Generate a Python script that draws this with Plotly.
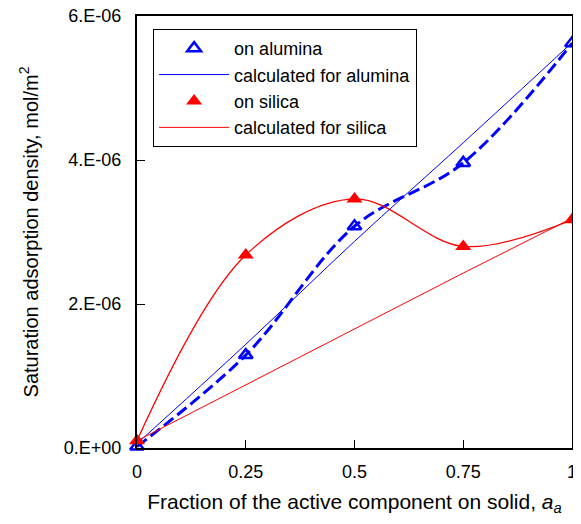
import plotly.graph_objects as go

# Data
fraction = [0, 0.25, 0.5, 0.75, 1]
alumina_exp = [0.02e-6, 1.29e-6, 3.08e-6, 3.96e-6, 5.62e-6]
silica_exp = [0.1e-6, 2.68e-6, 3.46e-6, 2.80e-6, 3.17e-6]
alumina_calc = [0.06e-6, 1.44e-6, 2.87e-6, 4.24e-6, 5.63e-6]
silica_calc = [0.1e-6, 0.88e-6, 1.66e-6, 2.43e-6, 3.19e-6]

x_ticks = [0, 0.25, 0.5, 0.75, 1]
x_ticktext = ["0", "0.25", "0.5", "0.75", "1"]
y_ticks = [0, 2e-6, 4e-6, 6e-6]
y_ticktext = ["0.E+00", "2.E-06", "4.E-06", "6.E-06"]

BLUE = "#0000ff"
RED = "#ff0000"

fig = go.Figure()

# smooth experimental curves (no legend)
fig.add_trace(go.Scatter(x=fraction, y=alumina_exp, mode="lines",
                         line=dict(color=BLUE, width=3, dash="12px,5px", shape="spline"),
                         showlegend=False, hoverinfo="skip"))
fig.add_trace(go.Scatter(x=fraction, y=silica_exp, mode="lines",
                         line=dict(color=RED, width=1.3, shape="spline"),
                         showlegend=False, hoverinfo="skip"))

# legend traces
fig.add_trace(go.Scatter(x=fraction, y=alumina_exp, mode="markers", name="on alumina",
                         marker=dict(symbol="triangle-up-open", size=12, color=BLUE,
                                     line=dict(color=BLUE, width=2.5)),
                         cliponaxis=False))
fig.add_trace(go.Scatter(x=fraction, y=alumina_calc, mode="lines", name="calculated for alumina",
                         line=dict(color=BLUE, width=1, shape="spline")))
fig.add_trace(go.Scatter(x=fraction, y=silica_exp, mode="markers", name="on silica",
                         marker=dict(symbol="triangle-up", size=14, color=RED),
                         cliponaxis=False))
fig.add_trace(go.Scatter(x=fraction, y=silica_calc, mode="lines", name="calculated for silica",
                         line=dict(color=RED, width=1)))

font_family = "Liberation Sans, Arial, sans-serif"

fig.update_layout(
    width=573, height=508,
    margin=dict(l=129, r=9, t=8, b=68),
    paper_bgcolor="white", plot_bgcolor="white",
    font=dict(family=font_family, size=18, color="black"),
    legend=dict(x=0.037, y=0.970, xanchor="left", yanchor="top",
                bordercolor="black", borderwidth=1, bgcolor="white",
                font=dict(size=18), tracegroupgap=0, itemwidth=70),
    xaxis=dict(range=[0, 1], tickvals=x_ticks, ticktext=x_ticktext,
               ticks="inside", ticklen=8, tickwidth=1, tickcolor="black",
               showline=True, linecolor="black", linewidth=2, mirror=True,
               showgrid=False, zeroline=False, ticklabelstandoff=6,
               ticklabeloverflow="allow", automargin=False,
               tickfont=dict(size=18),
               title=dict(text="Fraction of the active component on solid, <i>a<sub>a</sub></i>",
                          font=dict(size=21), standoff=17)),
    yaxis=dict(range=[0, 6e-6], tickvals=y_ticks, ticktext=y_ticktext,
               ticks="inside", ticklen=8, tickwidth=1, tickcolor="black",
               showline=True, linecolor="black", linewidth=2, mirror=True,
               showgrid=False, zeroline=False, ticklabelstandoff=10,
               ticklabeloverflow="allow", automargin=False,
               tickfont=dict(size=18),
               title=dict(text="Saturation adsorption density, mol/m<sup>2</sup>",
                          font=dict(size=20), standoff=20)),
)

fig.write_html("out.html")
